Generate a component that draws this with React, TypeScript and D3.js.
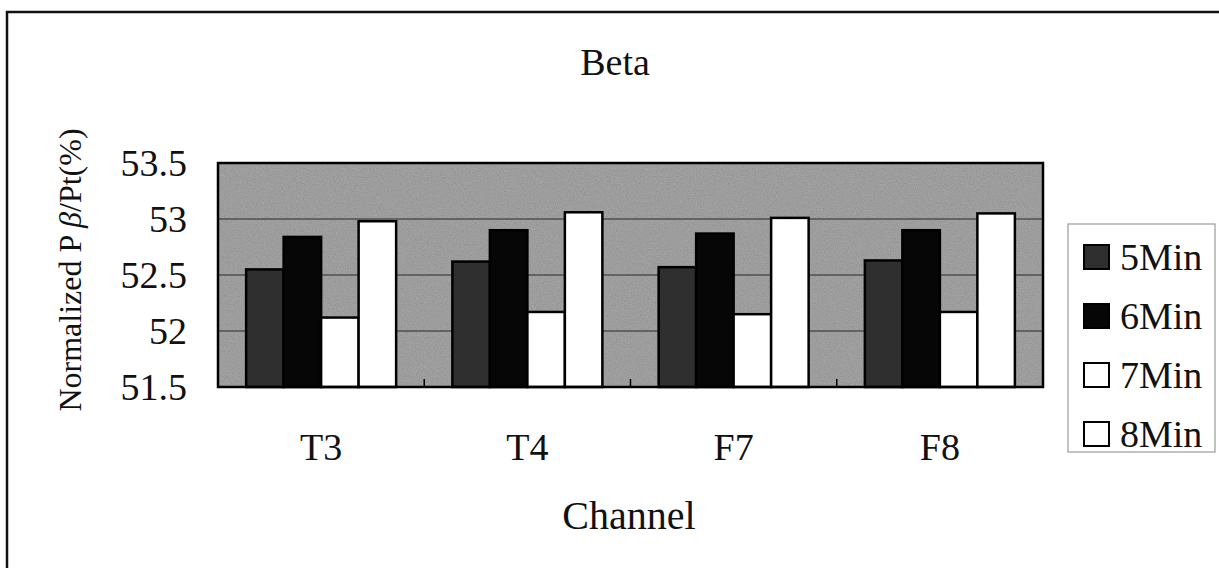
import React from "react";
import * as d3 from "d3";

const categories = ["T3", "T4", "F7", "F8"];
const seriesNames = ["5Min", "6Min", "7Min", "8Min"];
const values5 = [52.55, 52.62, 52.57, 52.63];
const values6 = [52.84, 52.9, 52.87, 52.9];
const values7 = [52.12, 52.17, 52.15, 52.17];
const values8 = [52.98, 53.06, 53.01, 53.05];
const yTicks = [51.5, 52, 52.5, 53, 53.5];
const seriesValues = [values5, values6, values7, values8];
const seriesFill = ["#2f2f2f", "#060606", "#ffffff", "#ffffff"];

const W = 1219;
const H = 568;
const plot = { left: 218, right: 1043, top: 163, bottom: 387 };
const FONT = "'Liberation Serif', 'Times New Roman', serif";

export default function App() {
  const x0 = d3
    .scaleBand<string>()
    .domain(categories)
    .range([plot.left, plot.right])
    .padding(0);
  const x1 = d3
    .scaleBand<string>()
    .domain(seriesNames)
    .range([0, x0.bandwidth()])
    .paddingInner(0)
    .paddingOuter(0.75);
  const y = d3.scaleLinear().domain([51.5, 53.5]).range([plot.bottom, plot.top]);

  const legendY = [257, 316, 375, 434];

  return (
    <div style={{ position: "absolute", left: 0, top: 0 }}>
      <svg width={W} height={H} style={{ display: "block", background: "#fff" }}>
        <defs>
          <filter id="grain" x="0" y="0" width="100%" height="100%">
            <feTurbulence type="fractalNoise" baseFrequency="0.85" numOctaves="2" seed="4" />
            <feColorMatrix type="saturate" values="0" />
            <feComponentTransfer>
              <feFuncA type="table" tableValues="1 1" />
            </feComponentTransfer>
          </filter>
        </defs>
        <rect x={0} y={0} width={W} height={H} fill="#ffffff" />
        {/* outer frame */}
        <rect x={7} y={12} width={W + 20} height={H + 20} fill="none" stroke="#111" strokeWidth={2.5} />

        {/* title */}
        <text x={615} y={75} textAnchor="middle" fontFamily={FONT} fontSize={38} fill="#111">
          Beta
        </text>

        {/* plot background */}
        <rect
          x={plot.left}
          y={plot.top}
          width={plot.right - plot.left}
          height={plot.bottom - plot.top}
          fill="#959595"
        />
        <rect
          x={plot.left}
          y={plot.top}
          width={plot.right - plot.left}
          height={plot.bottom - plot.top}
          filter="url(#grain)"
          opacity={0.22}
        />
        {/* gridlines */}
        {yTicks.slice(1, -1).map((t) => (
          <line
            key={t}
            x1={plot.left}
            x2={plot.right}
            y1={y(t)}
            y2={y(t)}
            stroke="#2a2a2a"
            strokeWidth={1.2}
          />
        ))}

        {/* bars */}
        {categories.map((c, ci) => (
          <g key={c} transform={`translate(${x0(c)},0)`}>
            {seriesNames.map((s, si) => {
              const v = seriesValues[si][ci];
              return (
                <rect
                  key={s}
                  x={x1(s)}
                  y={y(v)}
                  width={x1.bandwidth()}
                  height={plot.bottom - y(v)}
                  fill={seriesFill[si]}
                  stroke="#000"
                  strokeWidth={2.5}
                />
              );
            })}
          </g>
        ))}

        {/* category separator ticks */}
        {categories.slice(1).map((c) => (
          <line
            key={c}
            x1={x0(c)}
            x2={x0(c)}
            y1={plot.bottom}
            y2={plot.bottom - 8}
            stroke="#000"
            strokeWidth={1.5}
          />
        ))}

        {/* plot border */}
        <rect
          x={plot.left}
          y={plot.top}
          width={plot.right - plot.left}
          height={plot.bottom - plot.top}
          fill="none"
          stroke="#000"
          strokeWidth={2.5}
        />

        {/* y tick labels */}
        {yTicks.map((t) => (
          <text
            key={t}
            x={187}
            y={y(t)}
            dy="0.35em"
            textAnchor="end"
            fontFamily={FONT}
            fontSize={38}
            fill="#111"
          >
            {String(t)}
          </text>
        ))}

        {/* x labels */}
        {categories.map((c) => (
          <text
            key={c}
            x={(x0(c) as number) + x0.bandwidth() / 2}
            y={460}
            textAnchor="middle"
            fontFamily={FONT}
            fontSize={38}
            fill="#111"
          >
            {c}
          </text>
        ))}

        {/* x axis title */}
        <text x={629} y={529} textAnchor="middle" fontFamily={FONT} fontSize={40} fill="#111">
          Channel
        </text>

        {/* y axis title */}
        <text
          transform="translate(81,270) rotate(-90)"
          textAnchor="middle"
          fontFamily={FONT}
          fontSize={32}
          fill="#111"
        >
          <tspan>Normalized P </tspan>
          <tspan fontStyle="italic">β</tspan>
          <tspan>/Pt(%)</tspan>
        </text>

        {/* legend */}
        <rect x={1068} y={224} width={147} height={228} fill="#fff" stroke="#9a9a9a" strokeWidth={1.2} />
        {seriesNames.map((s, i) => (
          <g key={s}>
            <rect
              x={1084}
              y={legendY[i] - 12}
              width={25}
              height={24}
              fill={seriesFill[i]}
              stroke="#000"
              strokeWidth={2}
            />
            <text
              x={1120}
              y={legendY[i]}
              dy="0.35em"
              fontFamily={FONT}
              fontSize={38}
              fill="#111"
            >
              {s}
            </text>
          </g>
        ))}
      </svg>
    </div>
  );
}
